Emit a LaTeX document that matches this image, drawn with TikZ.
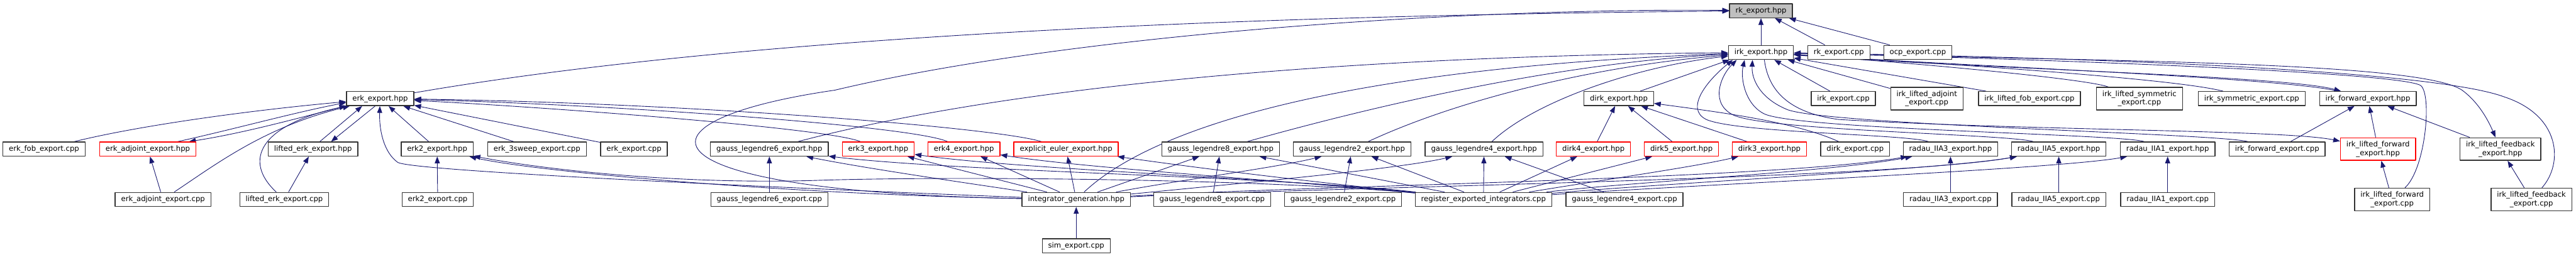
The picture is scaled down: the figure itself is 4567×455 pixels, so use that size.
\documentclass[tikz,border=0pt]{standalone}
\usepackage{fontspec}
\setmainfont{DejaVu Sans}
\usepackage{tikz}
\usetikzlibrary{arrows.meta,backgrounds}
\definecolor{doxyblue}{HTML}{191970}
\definecolor{doxygray}{HTML}{BFBFBF}
\newcommand{\incfont}{\fontsize{7.4}{8.6}\selectfont}
\tikzset{
  inc/file/.style={draw=black!80, line width=0.3mm, fill=white, align=center,
    inner xsep=2.1mm, inner ysep=0pt, minimum height=5mm, font=\incfont},
  inc/twoline/.style={inc/file, minimum height=8mm},
  inc/trunc/.style={inc/file, draw=red},
  inc/trunctwo/.style={inc/twoline, draw=red},
  inc/root/.style={inc/file, fill=doxygray},
  inc/edge/.style={draw=doxyblue, line width=0.2mm, -{Triangle[length=2.4mm,width=1.8mm]}}
}

\begin{document}
\begin{tikzpicture}[x=0.2mm, y=-0.2mm, line cap=round, line join=round]
\useasboundingbox (0,0) rectangle (4567,455);

% Top file
\node[inc/root] (rk) at (3122,19) {rk\_export.hpp};

% Row 1
\node[inc/file] (irk)   at (3122,93) {irk\_export.hpp};
\node[inc/file] (rkcpp) at (3260,93) {rk\_export.cpp};
\node[inc/file] (ocp)   at (3400,93) {ocp\_export.cpp};

% Row 2
\node[inc/file]    (erk)     at (674,175)  {erk\_export.hpp};
\node[inc/file]    (dirk)    at (2870,175) {dirk\_export.hpp};
\node[inc/file]    (irkcpp)  at (3268,175) {irk\_export.cpp};
\node[inc/twoline] (irkladj) at (3416,175) {irk\_lifted\_adjoint\\\_export.cpp};
\node[inc/file]    (irklfob) at (3598,175) {irk\_lifted\_fob\_export.cpp};
\node[inc/twoline] (irklsym) at (3793,175) {irk\_lifted\_symmetric\\\_export.cpp};
\node[inc/file]    (irksym)  at (3992,175) {irk\_symmetric\_export.cpp};
\node[inc/file]    (irkfwd)  at (4198,175) {irk\_forward\_export.hpp};

% Row 3
\node[inc/file]     (erkfob)    at (78,264.5)   {erk\_fob\_export.cpp};
\node[inc/trunc]    (erkadj)    at (262,264.5)  {erk\_adjoint\_export.hpp};
\node[inc/file]     (lerk)      at (555,264.5)  {lifted\_erk\_export.hpp};
\node[inc/file]     (erk2)      at (775,264.5)  {erk2\_export.hpp};
\node[inc/file]     (erk3sw)    at (952,264.5)  {erk\_3sweep\_export.cpp};
\node[inc/file]     (erkcpp)    at (1124,264.5) {erk\_export.cpp};
\node[inc/file]     (gl6)       at (1364,264.5) {gauss\_legendre6\_export.hpp};
\node[inc/trunc]    (erk3)      at (1557,264.5) {erk3\_export.hpp};
\node[inc/trunc]    (erk4)      at (1709,264.5) {erk4\_export.hpp};
\node[inc/trunc]    (eul)       at (1890,264.5) {explicit\_euler\_export.hpp};
\node[inc/file]     (gl8)       at (2164,264.5) {gauss\_legendre8\_export.hpp};
\node[inc/file]     (gl2)       at (2397,264.5) {gauss\_legendre2\_export.hpp};
\node[inc/file]     (gl4)       at (2631,264.5) {gauss\_legendre4\_export.hpp};
\node[inc/trunc]    (dirk4)     at (2825,264.5) {dirk4\_export.hpp};
\node[inc/trunc]    (dirk5)     at (2981,264.5) {dirk5\_export.hpp};
\node[inc/trunc]    (dirk3)     at (3137,264.5) {dirk3\_export.hpp};
\node[inc/file]     (dirkcpp)   at (3289,264.5) {dirk\_export.cpp};
\node[inc/file]     (rad3)      at (3458,264.5) {radau\_IIA3\_export.hpp};
\node[inc/file]     (rad5)      at (3650,264.5) {radau\_IIA5\_export.hpp};
\node[inc/file]     (rad1)      at (3843,264.5) {radau\_IIA1\_export.hpp};
\node[inc/file]     (irkfwdcpp) at (4037,264.5) {irk\_forward\_export.cpp};
\node[inc/trunctwo] (irklfwd)   at (4216,264.5) {irk\_lifted\_forward\\\_export.hpp};
\node[inc/twoline]  (irklfb)    at (4433,264.5) {irk\_lifted\_feedback\\\_export.hpp};

% Row 4
\node[inc/file]    (erkadjcpp)  at (289,354)  {erk\_adjoint\_export.cpp};
\node[inc/file]    (lerkcpp)    at (504,354)  {lifted\_erk\_export.cpp};
\node[inc/file]    (erk2cpp)    at (776,354)  {erk2\_export.cpp};
\node[inc/file]    (gl6cpp)     at (1364,354) {gauss\_legendre6\_export.cpp};
\node[inc/file]    (intgen)     at (1908,354) {integrator\_generation.hpp};
\node[inc/file]    (gl8cpp)     at (2149,354) {gauss\_legendre8\_export.cpp};
\node[inc/file]    (gl2cpp)     at (2381,354) {gauss\_legendre2\_export.cpp};
\node[inc/file]    (reg)        at (2630,354) {register\_exported\_integrators.cpp};
\node[inc/file]    (gl4cpp)     at (2880,354) {gauss\_legendre4\_export.cpp};
\node[inc/file]    (rad3cpp)    at (3458,354) {radau\_IIA3\_export.cpp};
\node[inc/file]    (rad5cpp)    at (3650,354) {radau\_IIA5\_export.cpp};
\node[inc/file]    (rad1cpp)    at (3843,354) {radau\_IIA1\_export.cpp};
\node[inc/twoline] (irklfwdcpp) at (4241,354) {irk\_lifted\_forward\\\_export.cpp};
\node[inc/twoline] (irklfbcpp)  at (4488,354) {irk\_lifted\_feedback\\\_export.cpp};

% Row 5
\node[inc/file] (sim) at (1908,436) {sim\_export.cpp};

\begin{scope}[on background layer]
% into rk_export.hpp
\draw[inc/edge] (irk) -- (rk);
\draw[inc/edge] (rkcpp) -- (rk);
\draw[inc/edge] (ocp) -- (rk);
\draw[inc/edge] (erk) .. controls (1400,50) and (2400,26) .. (rk);
\draw[inc/edge] (intgen) .. controls (1120,340) and (1100,215) .. (1480,160)
  .. controls (1900,60) and (2600,14) .. (rk);

% into irk_export.hpp, from the left
\draw[inc/edge] (gl6) .. controls (1800,150) and (2400,100) .. (irk);
\draw[inc/edge] (intgen) .. controls (2050,220) and (2400,120) .. (irk);
\draw[inc/edge] (gl8) .. controls (2500,170) and (2800,110) .. (irk);
\draw[inc/edge] (gl2) .. controls (2600,170) and (2850,115) .. (irk);
\draw[inc/edge] (gl4) .. controls (2720,180) and (2900,118) .. (irk);
\draw[inc/edge] (dirk) -- ([xshift=-11.2mm]irk.south);

% into irk_export.hpp, loops from below
\draw[inc/edge] (rad3) .. controls (3380,238) and (3080,236) .. (3025,212)
  .. controls (2985,192) and (3030,140) .. ([xshift=-10mm]irk.south);
\draw[inc/edge] (rad5) .. controls (3560,238) and (3140,232) .. (3075,205)
  .. controls (3030,185) and (3050,135) .. ([xshift=-8.6mm]irk.south);
\draw[inc/edge] (rad1) .. controls (3760,238) and (3200,230) .. (3130,203)
  .. controls (3095,188) and (3085,140) .. ([xshift=-5.8mm]irk.south);
\draw[inc/edge] (irkfwdcpp) .. controls (3930,237) and (3250,222) .. (3170,195)
  .. controls (3120,175) and (3105,140) .. ([xshift=-3mm]irk.south);
\draw[inc/edge] ([xshift=1.2mm]irk.south) .. controls (3135,160) and (3170,200) .. (3260,212)
  .. controls (3600,232) and (4050,230) .. (irklfwd);

% into irk_export.hpp, from the right
\draw[inc/edge] (irkcpp) -- (irk);
\draw[inc/edge] (irkladj) -- (irk);
\draw[inc/edge] (irklfob) -- (irk);
\draw[inc/edge] (irklsym) .. controls (3700,140) and (3400,112) .. (irk);
\draw[inc/edge] (irksym) .. controls (3850,138) and (3400,110) .. (irk);
\draw[inc/edge] (irkfwd) .. controls (4050,138) and (3500,118) .. (irk);
\draw[inc/edge] (irk) .. controls (3500,122) and (4050,134) .. (irkfwd);
\draw[inc/edge] (irk) .. controls (3700,108) and (4290,108) .. (4365,160)
  .. controls (4395,182) and (4412,215) .. (irklfb);
\draw[inc/edge] (irklfwdcpp) .. controls (4300,300) and (4312,170) .. (4292,152)
  .. controls (4260,128) and (3600,104) .. (irk);
\draw[inc/edge] (irklfbcpp) .. controls (4545,290) and (4540,205) .. (4440,172)
  .. controls (4300,120) and (3600,100) .. (irk);

% dirk_export.hpp
\draw[inc/edge] (dirk4) -- (dirk);
\draw[inc/edge] (dirk5) -- (dirk);
\draw[inc/edge] (dirk3) -- (dirk);
\draw[inc/edge] (dirkcpp) .. controls (3180,215) and (3040,198) .. (dirk);

% erk_export.hpp
\draw[inc/edge] (erkfob) .. controls (250,222) and (450,195) .. (erk);
\draw[inc/edge] ([xshift=-6.6mm]erkadj.north east) .. controls (420,228) and (520,200) .. ([yshift=-1.4mm]erk.west);
\draw[inc/edge] (erk.south west) .. controls (540,206) and (440,235) .. ([xshift=-2.6mm]erkadj.north east);
\draw[inc/edge] (erkadjcpp) .. controls (385,290) and (470,225) .. (erk);
\draw[inc/edge] (lerkcpp) .. controls (430,285) and (460,222) .. (erk);
\draw[inc/edge] ([xshift=2.4mm]lerk.north) -- ([xshift=-6.4mm]erk.south);
\draw[inc/edge] ([xshift=-1.8mm]erk.south) -- ([xshift=6.4mm]lerk.north);
\draw[inc/edge] (erk2) -- (erk);
\draw[inc/edge] (erk3sw) -- (erk);
\draw[inc/edge] (erkcpp) -- (erk);
\draw[inc/edge] (erk3) .. controls (1470,228) and (1000,192) .. (erk);
\draw[inc/edge] (erk4) .. controls (1620,224) and (1100,186) .. (erk);
\draw[inc/edge] (eul) .. controls (1760,225) and (1200,182) .. (erk);
\draw[inc/edge] (intgen) .. controls (1500,338) and (730,305) .. (705,288)
  .. controls (680,270) and (672,230) .. (erk);

% from integrator_generation.hpp and register_exported_integrators.cpp
\draw[inc/edge] (intgen) .. controls (1400,345) and (950,305) .. (erk2);
\draw[inc/edge] (reg) .. controls (2250,318) and (1700,312) .. (1450,320)
  .. controls (1200,328) and (960,300) .. (erk2);
\draw[inc/edge] (intgen) .. controls (1750,330) and (1540,300) .. (gl6);
\draw[inc/edge] (reg) .. controls (2250,312) and (1700,305) .. (gl6);
\draw[inc/edge] (intgen) -- (erk3);
\draw[inc/edge] (reg) .. controls (2250,315) and (1800,300) .. (erk3);
\draw[inc/edge] (intgen) -- (erk4);
\draw[inc/edge] (reg) .. controls (2250,318) and (1920,298) .. (erk4);
\draw[inc/edge] (intgen) -- (eul);
\draw[inc/edge] (reg) .. controls (2300,320) and (2100,295) .. (eul);
\draw[inc/edge] (intgen) -- (gl8);
\draw[inc/edge] (reg) -- (gl8);
\draw[inc/edge] (intgen) .. controls (2100,318) and (2260,298) .. (gl2);
\draw[inc/edge] (reg) -- (gl2);
\draw[inc/edge] (intgen) .. controls (2200,325) and (2480,300) .. (gl4);
\draw[inc/edge] (reg) -- (gl4);
\draw[inc/edge] (reg) -- (dirk4);
\draw[inc/edge] (reg) -- (dirk5);
\draw[inc/edge] (reg) .. controls (2850,318) and (3010,295) .. (dirk3);
\draw[inc/edge] (reg) .. controls (2900,322) and (3250,305) .. (rad3);
\draw[inc/edge] (intgen) .. controls (2300,330) and (3150,318) .. (rad3);
\draw[inc/edge] (reg) .. controls (2950,325) and (3450,300) .. (rad5);
\draw[inc/edge] (intgen) .. controls (2350,332) and (3350,318) .. (rad5);
\draw[inc/edge] (reg) .. controls (3000,328) and (3650,300) .. (rad1);

% sources into their headers
\draw[inc/edge] (erkadjcpp) -- (erkadj);
\draw[inc/edge] (lerkcpp) -- (lerk);
\draw[inc/edge] (erk2cpp) -- (erk2);
\draw[inc/edge] (gl6cpp) -- (gl6);
\draw[inc/edge] (gl8cpp) -- (gl8);
\draw[inc/edge] (gl2cpp) -- (gl2);
\draw[inc/edge] (gl4cpp) -- (gl4);
\draw[inc/edge] (rad3cpp) -- (rad3);
\draw[inc/edge] (rad5cpp) -- (rad5);
\draw[inc/edge] (rad1cpp) -- (rad1);
\draw[inc/edge] (irkfwdcpp) -- (irkfwd);
\draw[inc/edge] (irklfwd) -- (irkfwd);
\draw[inc/edge] (irklfb) -- (irkfwd);
\draw[inc/edge] (irklfwdcpp) -- (irklfwd);
\draw[inc/edge] (irklfbcpp) -- (irklfb);
\draw[inc/edge] (sim) -- (intgen);
\end{scope}
\end{tikzpicture}
\end{document}
